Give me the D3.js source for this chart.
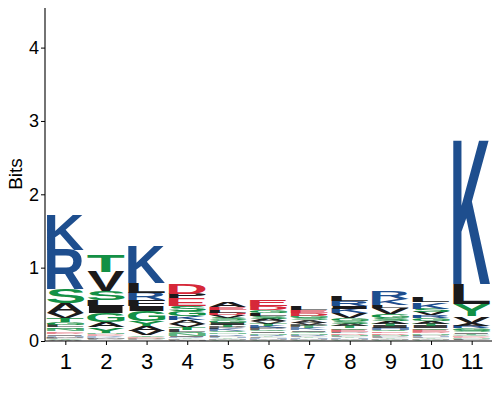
<!DOCTYPE html>
<html><head><meta charset="utf-8">
<script src="https://cdn.jsdelivr.net/npm/d3@7"></script>
<style>body{margin:0;background:#fff}</style>
</head><body>
<svg id="chart" width="500" height="400"></svg>
<script>
// Position labels
const positions = [1,2,3,4,5,6,7,8,9,10,11];
const yTicks = [0,1,2,3,4];
// Letter stacks per position, listed top to bottom: [residue, bits]
const pos1 = [["K",0.48],["R",0.54],["S",0.19],["A",0.135],["V",0.07],["T",0.055],["G",0.04],["L",0.03],["Q",0.03],["N",0.025],["E",0.02],["D",0.02],["I",0.018],["H",0.015],["P",0.012],["M",0.01],["F",0.01],["Y",0.01],["C",0.008],["W",0.007]];
const pos2 = [["T",0.22],["V",0.27],["S",0.12],["L",0.08],["I",0.095],["G",0.12],["A",0.075],["Y",0.07],["N",0.02],["D",0.015],["E",0.015],["R",0.012],["K",0.012],["F",0.01],["M",0.008],["P",0.008],["H",0.006],["C",0.005],["W",0.004]];
const pos3 = [["K",0.51],["L",0.13],["R",0.1],["F",0.08],["I",0.06],["G",0.14],["Y",0.07],["A",0.065],["V",0.065],["T",0.015],["S",0.012],["E",0.01],["D",0.008],["N",0.008],["P",0.007],["Q",0.006],["H",0.005],["M",0.004]];
const pos4 = [["D",0.14],["P",0.06],["E",0.11],["S",0.07],["G",0.07],["K",0.05],["A",0.05],["V",0.04],["T",0.04],["L",0.03],["Q",0.03],["N",0.025],["I",0.02],["R",0.015],["Y",0.012],["F",0.01],["M",0.008],["H",0.006]];
const pos5 = [["A",0.07],["E",0.04],["L",0.04],["D",0.035],["V",0.035],["S",0.035],["G",0.03],["I",0.03],["T",0.03],["P",0.025],["K",0.025],["Q",0.025],["N",0.02],["R",0.02],["F",0.02],["H",0.015],["Y",0.015],["M",0.01],["C",0.008],["W",0.006]];
const pos6 = [["E",0.09],["D",0.05],["G",0.04],["L",0.04],["S",0.04],["A",0.035],["V",0.03],["T",0.03],["K",0.03],["P",0.025],["Q",0.025],["I",0.02],["N",0.02],["R",0.02],["Y",0.015],["F",0.015],["H",0.012],["M",0.01],["C",0.008],["W",0.006]];
const pos7 = [["L",0.05],["E",0.04],["D",0.035],["G",0.03],["S",0.03],["A",0.03],["V",0.03],["P",0.025],["T",0.025],["K",0.025],["I",0.02],["Q",0.02],["N",0.02],["R",0.02],["F",0.015],["Y",0.015],["H",0.012],["M",0.01],["C",0.008],["W",0.006]];
const pos8 = [["L",0.06],["R",0.07],["I",0.04],["K",0.06],["V",0.07],["G",0.04],["S",0.035],["A",0.03],["T",0.03],["Q",0.025],["E",0.025],["P",0.02],["D",0.02],["N",0.02],["F",0.015],["Y",0.015],["H",0.012],["M",0.01],["C",0.008],["W",0.006]];
const pos9 = [["R",0.11],["K",0.08],["L",0.04],["V",0.08],["G",0.05],["S",0.04],["A",0.04],["T",0.03],["I",0.03],["H",0.025],["Q",0.025],["E",0.02],["D",0.02],["N",0.02],["P",0.015],["F",0.015],["Y",0.012],["M",0.01],["C",0.008],["W",0.006]];
const pos10 = [["L",0.075],["K",0.09],["S",0.045],["V",0.045],["R",0.04],["G",0.04],["A",0.035],["T",0.03],["I",0.03],["Q",0.025],["E",0.025],["D",0.02],["N",0.02],["P",0.02],["H",0.015],["F",0.015],["Y",0.012],["M",0.01],["C",0.008],["W",0.006]];
const pos11 = [["K",1.99],["L",0.27],["Y",0.16],["V",0.09],["A",0.04],["R",0.04],["G",0.03],["S",0.025],["I",0.02],["T",0.02],["Q",0.015],["E",0.012],["D",0.01],["N",0.01],["P",0.01],["F",0.008],["H",0.006],["M",0.005]];
const stacks = [pos1,pos2,pos3,pos4,pos5,pos6,pos7,pos8,pos9,pos10,pos11];

const groups = [
  {letters:"GSTYCNQ", color:"#139045"},
  {letters:"KRH", color:"#1E4E8E"},
  {letters:"DE", color:"#D62839"},
  {letters:"PAWFLIMV", color:"#1B1A1B"}
];
function colorOf(ch){ for(const g of groups) if(g.letters.includes(ch)) return g.color; return "#888"; }

const svg = d3.select("#chart");
const x = d3.scaleLinear().domain([0.5, 11.5]).range([45, 492]);
const y = d3.scaleLinear().domain([0, 4.54]).range([341, 8]);
const step = x(2) - x(1);
const colW = step * 0.92;

const LFAM = "Liberation Sans, Arial, sans-serif";
const FONT = "bold 100px 'Liberation Sans'";
const cv = document.createElement("canvas").getContext("2d");
cv.font = FONT;
const mcache = {};
function met(ch){
  if(!mcache[ch]){ const m = cv.measureText(ch);
    mcache[ch] = {l:m.actualBoundingBoxLeft, r:m.actualBoundingBoxRight, a:m.actualBoundingBoxAscent, d:m.actualBoundingBoxDescent}; }
  return mcache[ch];
}

const logo = svg.append("g");
stacks.forEach((stack, i) => {
  const cx = x(positions[i]);
  let base = 0;
  const rev = stack.slice().reverse();
  rev.forEach(([ch, h]) => {
    const top = base + h;
    const y0 = y(top), y1 = y(base);
    const bh = y1 - y0;
    const m = met(ch);
    const sx = colW / (m.l + m.r), sy = bh / (m.a + m.d);
    logo.append("text")
      .attr("transform", `translate(${cx - colW/2},${y0}) scale(${sx},${sy}) translate(${m.l},${m.a})`)
      .attr("font-family", LFAM).attr("font-weight", "bold").attr("font-size", 100)
      .attr("fill", colorOf(ch))
      .attr("fill-opacity", Math.max(0.4, Math.min(1, bh / 2.6)))
      .text(ch);
    base = top;
  });
});

// Y axis
const yAxis = svg.append("g").attr("transform", "translate(45,0)")
  .call(d3.axisLeft(y).tickValues(yTicks).tickSize(4).tickFormat(d3.format("d")));
yAxis.select(".domain").attr("d", `M0,${y(4.54)}V${y(0)}`).attr("stroke", "#000").attr("stroke-width", 1.1);
yAxis.selectAll(".tick line").attr("stroke", "#000");
yAxis.selectAll(".tick text").attr("font-family", LFAM).attr("font-size", 18).attr("fill", "#000").attr("x", -6);

// X axis
const xAxis = svg.append("g").attr("transform", "translate(0,341)")
  .call(d3.axisBottom(x).tickValues(positions).tickSize(4).tickFormat(d3.format("d")));
xAxis.select(".domain").attr("d", `M45,0H492`).attr("stroke", "#000").attr("stroke-width", 1.1);
xAxis.selectAll(".tick line").attr("stroke", "#000");
xAxis.selectAll(".tick text").attr("font-family", LFAM).attr("font-size", 22).attr("fill", "#000").attr("y", 12);

svg.append("text").attr("transform", "translate(22,174) rotate(-90)")
  .attr("text-anchor", "middle").attr("font-family", LFAM)
  .attr("font-size", 19).attr("fill", "#000").text("Bits");
</script>
</body></html>
